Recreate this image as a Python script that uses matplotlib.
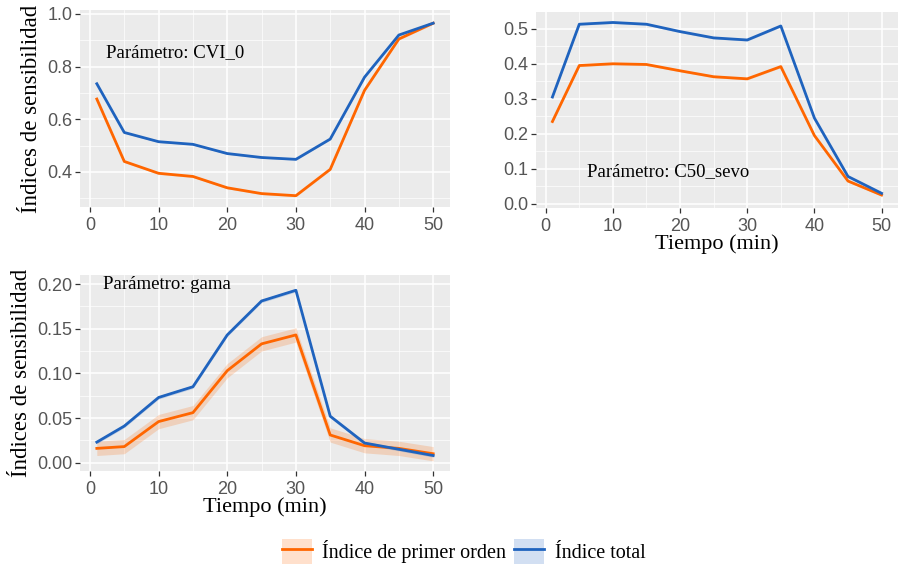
import matplotlib
matplotlib.use("Agg")
import matplotlib.pyplot as plt
import numpy as np
from matplotlib.patches import Patch
from matplotlib.lines import Line2D

tiempo = [1, 5, 10, 15, 20, 25, 30, 35, 40, 45, 50]

cvi_first = [0.677, 0.440, 0.395, 0.383, 0.340, 0.318, 0.310, 0.410, 0.710, 0.905, 0.965]
cvi_total = [0.735, 0.550, 0.515, 0.505, 0.470, 0.455, 0.448, 0.525, 0.760, 0.920, 0.965]

c50_first = [0.235, 0.395, 0.400, 0.398, 0.380, 0.363, 0.357, 0.392, 0.195, 0.065, 0.025]
c50_total = [0.305, 0.513, 0.518, 0.513, 0.492, 0.474, 0.468, 0.508, 0.245, 0.078, 0.030]

gama_first = [0.016, 0.018, 0.046, 0.056, 0.103, 0.133, 0.143, 0.031, 0.019, 0.016, 0.010]
gama_total = [0.023, 0.041, 0.073, 0.085, 0.143, 0.181, 0.193, 0.052, 0.022, 0.015, 0.008]

cvi_first_err = [0.004] * 11
cvi_total_err = [0.003] * 11
c50_first_err = [0.003] * 11
c50_total_err = [0.003] * 11
gama_first_err = [0.008] * 11
gama_total_err = [0.0018] * 11

ORANGE = "#FF6600"
BLUE = "#1F63BE"
BG = "#EBEBEB"
SERIF = ["Liberation Serif", "DejaVu Serif"]
SANS = ["Liberation Sans", "DejaVu Sans"]

fig = plt.figure(figsize=(9.02, 5.65), dpi=100)


def style(ax, yticks, yfmt, ylim, xlabel, ylabel):
    ax.set_facecolor(BG)
    for s in ax.spines.values():
        s.set_visible(False)
    ax.set_xlim(-1.45, 52.45)
    ax.set_ylim(*ylim)
    xt = [0, 10, 20, 30, 40, 50]
    ax.set_xticks(xt)
    ax.set_xticks([5, 15, 25, 35, 45], minor=True)
    ax.set_yticks(yticks)
    ymin = [(yticks[i] + yticks[i + 1]) / 2 for i in range(len(yticks) - 1)]
    step = yticks[1] - yticks[0]
    if yticks[0] - step / 2 > ylim[0]:
        ymin = [yticks[0] - step / 2] + ymin
    if yticks[-1] + step / 2 < ylim[1]:
        ymin = ymin + [yticks[-1] + step / 2]
    ax.set_yticks(ymin, minor=True)
    ax.set_yticklabels([yfmt.format(v) for v in yticks])
    ax.grid(True, which="major", color="white", linewidth=1.1)
    ax.grid(True, which="minor", color="white", linewidth=0.5)
    ax.set_axisbelow(True)
    ax.tick_params(which="major", length=3.5, width=0.9, color="#333333",
                   labelcolor="#555555", labelsize=13, pad=2)
    ax.tick_params(axis="x", which="major", pad=4)
    ax.tick_params(which="minor", length=0)
    for lab in ax.get_xticklabels() + ax.get_yticklabels():
        lab.set_family(SANS)
    if xlabel:
        ax.set_xlabel(xlabel, family=SERIF, fontsize=16, labelpad=-1)
    if ylabel:
        ax.set_ylabel(ylabel, family=SERIF, fontsize=16.5, labelpad=4)


def draw(ax, first, ferr, total, terr):
    f = np.array(first); fe = np.array(ferr)
    t = np.array(total); te = np.array(terr)
    ax.fill_between(tiempo, f - fe, f + fe, color=ORANGE, alpha=0.2, linewidth=0)
    ax.plot(tiempo, f, color=ORANGE, linewidth=2)
    ax.fill_between(tiempo, t - te, t + te, color=BLUE, alpha=0.2, linewidth=0)
    ax.plot(tiempo, t, color=BLUE, linewidth=2)


ax1 = fig.add_axes([0.0887, 0.6336, 0.4102, 0.3487])
draw(ax1, cvi_first, cvi_first_err, cvi_total, cvi_total_err)
style(ax1, [0.4, 0.6, 0.8, 1.0], "{:.1f}", (0.267, 1.015), None, "Índices de sensibilidad")
ax1.text(2.3, 0.852, "Parámetro: CVI_0", family=SERIF, fontsize=13.5, va="center", ha="left")

ax2 = fig.add_axes([0.5942, 0.6319, 0.4014, 0.3469])
draw(ax2, c50_first, c50_first_err, c50_total, c50_total_err)
style(ax2, [0.0, 0.1, 0.2, 0.3, 0.4, 0.5], "{:.1f}", (-0.012, 0.548), "Tiempo (min)", None)
ax2.text(6.2, 0.093, "Parámetro: C50_sevo", family=SERIF, fontsize=13.5, va="center", ha="left")

ax3 = fig.add_axes([0.0887, 0.1664, 0.4102, 0.3469])
draw(ax3, gama_first, gama_first_err, gama_total, gama_total_err)
style(ax3, [0.0, 0.05, 0.10, 0.15, 0.20], "{:.2f}", (-0.0093, 0.2101), "Tiempo (min)", "Índices de sensibilidad")
ax3.text(1.9, 0.199, "Parámetro: gama", family=SERIF, fontsize=13.5, va="center", ha="left")

handles = [
    (Patch(facecolor=ORANGE, alpha=0.2, edgecolor="none"), Line2D([], [], color=ORANGE, linewidth=2)),
    (Patch(facecolor=BLUE, alpha=0.2, edgecolor="none"), Line2D([], [], color=BLUE, linewidth=2)),
]
fig.legend(handles, ["Índice de primer orden", "Índice total"], loc="center",
           bbox_to_anchor=(0.514, 0.024), ncol=2, frameon=False,
           prop={"family": SERIF, "size": 14.5}, handlelength=1.5, handleheight=1.5,
           handletextpad=0.5, columnspacing=0.4)

fig.savefig("out.png", dpi=100)
